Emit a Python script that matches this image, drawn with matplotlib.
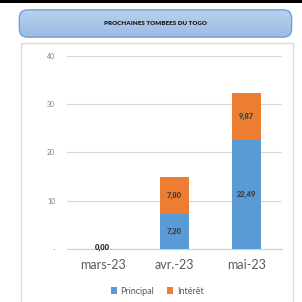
import matplotlib
matplotlib.use("Agg")
import matplotlib.pyplot as plt
from matplotlib.patches import FancyBboxPatch, Rectangle
import numpy as np

categories = ["mars-23", "avr.-23", "mai-23"]
principal = [0.00, 7.20, 22.49]
interet = [0.00, 7.80, 9.87]
yticks = [0, 10, 20, 30, 40]
ytick_labels = ["-", "10", "20", "30", "40"]
title = "PROCHAINES TOMBEES DU TOGO"

W = H = 302
fig = plt.figure(figsize=(W / 100, H / 100), dpi=100)
fig.patch.set_facecolor("white")
FONT = "Lato"

def px(x0, y0, w, h):
    return (x0 / W, 1 - (y0 + h) / H, w / W, h / H)

# top black band
fig.patches.append(Rectangle((0, 1 - 3 / H), 1, 3 / H, transform=fig.transFigure,
                             facecolor="black", edgecolor="none", zorder=-2))

# chart panel border
x0, y0, w, h = px(21, 43, 272, 265)
fig.patches.append(Rectangle((x0, y0), w, h, transform=fig.transFigure,
                             facecolor="white", edgecolor="#d9d9d9", linewidth=1.0, zorder=-2))

# title box with gradient
tb = fig.add_axes(px(18, 9, 275, 29))
tb.set_xlim(0, 1)
tb.set_ylim(0, 1)
tb.axis("off")
grad = np.linspace(0, 1, 100).reshape(-1, 1)
top = np.array([0.74, 0.82, 0.93])
bot = np.array([0.60, 0.73, 0.90])
img = top * (1 - grad[..., None]) + bot * grad[..., None]
img = img.reshape(100, 1, 3)
box = FancyBboxPatch((0.005, 0.03), 0.99, 0.94, boxstyle="round,pad=0,rounding_size=0.03",
                     mutation_aspect=275 / 29, facecolor="none", edgecolor="#6f9fd8",
                     linewidth=1.0, transform=tb.transAxes)
im = tb.imshow(img, extent=[0, 1, 0, 1], aspect="auto", origin="upper")
im.set_clip_path(box)
tb.add_patch(box)
tb.text(0.5, 0.5, title, ha="center", va="center", fontsize=4.5, fontweight="heavy",
        color="#1a1a1a", family=FONT)

# main axes
ax = fig.add_axes((67 / W, 1 - 249 / H, 215 / W, 193 / H))
ax.set_facecolor("none")
x = np.arange(len(categories))
bw = 0.40
ax.bar(x, principal, bw, color="#5b9bd5", label="Principal", zorder=3)
ax.bar(x, interet, bw, bottom=principal, color="#ed7d31", label="Intérêt", zorder=3)
ax.set_xlim(-0.5, 2.5)
ax.set_ylim(0, 40)
ax.set_yticks(yticks)
ax.set_yticklabels(ytick_labels)
ax.set_xticks(x)
ax.set_xticklabels(categories)
ax.grid(axis="y", color="#d9d9d9", linewidth=0.8, zorder=0)
for s in ["top", "right", "left"]:
    ax.spines[s].set_visible(False)
ax.spines["bottom"].set_color("#d0d0d0")
ax.spines["bottom"].set_linewidth(0.8)
ax.tick_params(axis="both", length=0)
ax.tick_params(axis="y", labelsize=5, labelcolor="#7f7f7f", pad=8.5)
ax.tick_params(axis="x", labelsize=9, labelcolor="#595959", pad=7)
for lab in ax.get_xticklabels() + ax.get_yticklabels():
    lab.set_family(FONT)

def fmt(v):
    return f"{v:.2f}".replace(".", ",")

for i in range(len(categories)):
    p, q = principal[i], interet[i]
    if p + q == 0:
        ax.text(x[i], 0.3, fmt(0), ha="center", va="center", fontsize=5.5,
                fontweight="heavy", color="#262626", family=FONT, zorder=5)
        continue
    ax.text(x[i], p / 2, fmt(p), ha="center", va="center", fontsize=5.5,
            fontweight="heavy", color="#404040", family=FONT, zorder=5)
    ax.text(x[i], p + q / 2, fmt(q), ha="center", va="center", fontsize=5.5,
            fontweight="heavy", color="#404040", family=FONT, zorder=5)

leg = fig.legend(loc="center", bbox_to_anchor=(157 / W, 1 - 291 / H), ncol=2, frameon=False,
                 prop={"family": FONT, "size": 6.5}, handlelength=0.7, handleheight=0.7,
                 columnspacing=1.4, handletextpad=0.4)
for t in leg.get_texts():
    t.set_color("#595959")

fig.savefig("out.png", dpi=100)
